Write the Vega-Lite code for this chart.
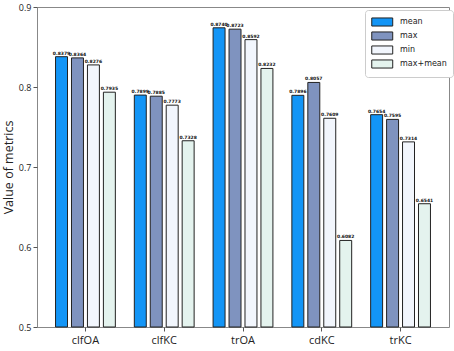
{
  "$schema": "https://vega.github.io/schema/vega-lite/v6.json",
  "autosize": "none",
  "width": 412,
  "height": 320,
  "padding": {"left": 37, "top": 7, "right": 5, "bottom": 24},
  "config": {
    "view": {"stroke": "#888888", "strokeWidth": 1},
    "font": "DejaVu Sans"
  },
  "data": {
    "values": [
      {"group": "clfOA", "metric": "mean", "value": 0.8379},
      {"group": "clfOA", "metric": "max", "value": 0.8364},
      {"group": "clfOA", "metric": "min", "value": 0.8276},
      {"group": "clfOA", "metric": "max+mean", "value": 0.7935},
      {"group": "clfKC", "metric": "mean", "value": 0.7899},
      {"group": "clfKC", "metric": "max", "value": 0.7885},
      {"group": "clfKC", "metric": "min", "value": 0.7773},
      {"group": "clfKC", "metric": "max+mean", "value": 0.7328},
      {"group": "trOA", "metric": "mean", "value": 0.874},
      {"group": "trOA", "metric": "max", "value": 0.8723},
      {"group": "trOA", "metric": "min", "value": 0.8592},
      {"group": "trOA", "metric": "max+mean", "value": 0.8232},
      {"group": "cdKC", "metric": "mean", "value": 0.7896},
      {"group": "cdKC", "metric": "max", "value": 0.8057},
      {"group": "cdKC", "metric": "min", "value": 0.7609},
      {"group": "cdKC", "metric": "max+mean", "value": 0.6082},
      {"group": "trKC", "metric": "mean", "value": 0.7654},
      {"group": "trKC", "metric": "max", "value": 0.7595},
      {"group": "trKC", "metric": "min", "value": 0.7314},
      {"group": "trKC", "metric": "max+mean", "value": 0.6541}
    ]
  },
  "encoding": {
    "x": {
      "field": "group",
      "type": "nominal",
      "sort": ["clfOA", "clfKC", "trOA", "cdKC", "trKC"],
      "scale": {"paddingInner": 0.19, "paddingOuter": 0.21},
      "axis": {
        "title": null,
        "labelAngle": 0,
        "labelFontSize": 11,
        "labelColor": "#222222",
        "labelFont": "Open Sans",
        "tickColor": "#555555",
        "tickSize": 4,
        "domain": false,
        "labelPadding": 3
      }
    },
    "xOffset": {
      "field": "metric",
      "type": "nominal",
      "sort": ["mean", "max", "min", "max+mean"],
      "scale": {"paddingInner": 0.25, "paddingOuter": 0.125}
    },
    "y": {
      "field": "value",
      "type": "quantitative",
      "scale": {"domain": [0.5, 0.9], "zero": false, "nice": false},
      "axis": {
        "title": "Value of metrics",
        "titleFontSize": 12.5,
        "titleFontWeight": "normal",
        "titleFont": "Open Sans",
        "titleColor": "#222222",
        "titlePadding": 3,
        "values": [0.5, 0.6, 0.7, 0.8, 0.9],
        "format": ".1f",
        "labelFontSize": 9,
        "labelColor": "#222222",
        "labelFont": "Open Sans",
        "tickColor": "#555555",
        "tickSize": 4,
        "labelPadding": 2,
        "grid": false,
        "domain": false
      }
    }
  },
  "layer": [
    {
      "mark": {"type": "bar", "stroke": "#222222", "strokeWidth": 1},
      "encoding": {
        "y2": {"datum": 0.5},
        "fill": {
          "field": "metric",
          "type": "nominal",
          "sort": ["mean", "max", "min", "max+mean"],
          "scale": {
            "domain": ["mean", "max", "min", "max+mean"],
            "range": ["#1395f6", "#7f93bf", "#f2f6fd", "#e4f3ee"]
          },
          "legend": {
            "title": null,
            "orient": "none",
            "legendX": 328,
            "legendY": 3,
            "strokeColor": "#cccccc",
            "cornerRadius": 3,
            "padding": 6,
            "fillColor": "#ffffff",
            "labelFontSize": 8,
            "labelFont": "DejaVu Sans",
            "labelColor": "#222222",
            "rowPadding": 0,
            "symbolType": "M-1,-0.77H3V0.77H-1Z",
            "symbolSize": 110,
            "symbolStrokeColor": "#222222",
            "symbolStrokeWidth": 1,
            "labelOffset": 17
          }
        }
      }
    },
    {
      "mark": {"type": "text", "fontSize": 4.5, "fontWeight": "bold", "baseline": "bottom", "dy": -1, "color": "#111111"},
      "encoding": {
        "text": {"field": "value", "type": "quantitative", "format": ".4f"}
      }
    }
  ]
}
